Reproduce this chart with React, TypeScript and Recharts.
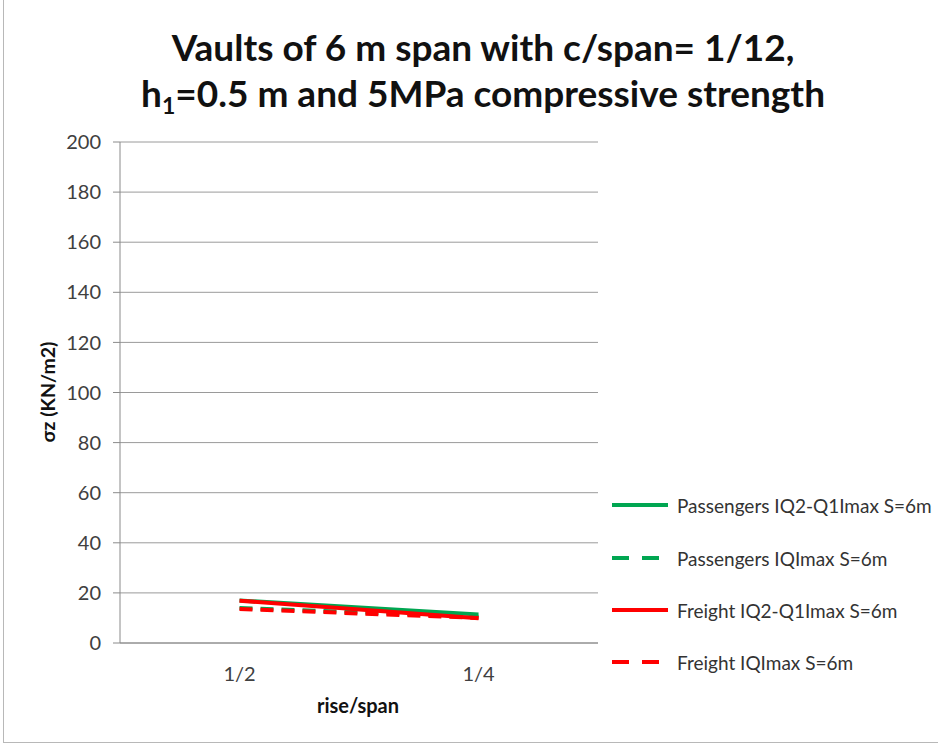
import React from "react";
import { LineChart, Line, XAxis, YAxis, CartesianGrid } from "recharts";

const categories = ["1/2", "1/4"];
const passengersIQ2Q1 = [17, 11.4];
const passengersIQ = [14, 10.5];
const freightIQ2Q1 = [16.9, 9.9];
const freightIQ = [13.6, 10];
const yTicks = [0, 20, 40, 60, 80, 100, 120, 140, 160, 180, 200];

const seriesNames = [
  "Passengers IQ2-Q1Imax S=6m",
  "Passengers IQImax S=6m",
  "Freight IQ2-Q1Imax S=6m",
  "Freight IQImax S=6m",
];

const GREEN = "#00a651";
const RED = "#ff0000";
const FONT = "Lato, 'Open Sans', sans-serif";

const data = categories.map((c, i) => ({
  cat: c,
  p1: passengersIQ2Q1[i],
  p2: passengersIQ[i],
  f1: freightIQ2Q1[i],
  f2: freightIQ[i],
}));

const series = [
  { key: "p1", name: seriesNames[0], color: GREEN, dash: undefined },
  { key: "p2", name: seriesNames[1], color: GREEN, dash: "13 8" },
  { key: "f1", name: seriesNames[2], color: RED, dash: undefined },
  { key: "f2", name: seriesNames[3], color: RED, dash: "13 8" },
];

export default function App() {
  return (
    <div
      style={{
        position: "absolute",
        left: 0,
        top: 0,
        width: 938,
        height: 745,
        overflow: "hidden",
        background: "#fff",
        fontFamily: FONT,
      }}
    >
      <div
        style={{
          position: "absolute",
          left: 3,
          top: -5,
          width: 1000,
          height: 748,
          border: "1px solid #b8b8b8",
          boxSizing: "border-box",
        }}
      />
      <div
        style={{
          position: "absolute",
          left: 0,
          width: 966,
          top: 24,
          textAlign: "center",
          fontWeight: 700,
          fontSize: 37,
          lineHeight: "46px",
          color: "#111",
          whiteSpace: "nowrap",
        }}
      >
        Vaults of 6 m span with c/span= 1/12,
        <br />
        h<sub style={{ fontSize: 23, verticalAlign: "-7px", lineHeight: 0 }}>1</sub>=0.5 m and 5MPa compressive strength
      </div>
      <LineChart
        width={938}
        height={745}
        data={data}
        margin={{ top: 142, left: 40, right: 340, bottom: 72 }}
        style={{ position: "absolute", left: 0, top: 0 }}
      >
        <CartesianGrid vertical={false} stroke="#9a9a9a" strokeWidth={1} />
        <XAxis
          dataKey="cat"
          scale="point"
          height={30}
          padding={{ left: 119.5, right: 119.5 }}
          axisLine={{ stroke: "#8a8a8a" }}
          tickLine={false}
          tickMargin={18}
          tick={{ fill: "#404040", fontSize: 20, fontFamily: FONT }}
        />
        <YAxis
          width={80}
          domain={[0, 200]}
          ticks={yTicks}
          interval={0}
          axisLine={{ stroke: "#8a8a8a" }}
          tickLine={{ stroke: "#8a8a8a" }}
          tickSize={7}
          tickMargin={12}
          tick={{ fill: "#404040", fontSize: 20, fontFamily: FONT }}
        />
        {series.map((s) => (
          <Line
            key={s.key}
            dataKey={s.key}
            name={s.name}
            stroke={s.color}
            strokeWidth={4}
            strokeDasharray={s.dash}
            dot={false}
            isAnimationActive={false}
          />
        ))}
      </LineChart>
      <div
        style={{
          position: "absolute",
          left: 47,
          top: 392,
          transform: "translate(-50%, -50%) rotate(-90deg)",
          fontWeight: 700,
          fontSize: 19.5,
          color: "#111",
          whiteSpace: "nowrap",
        }}
      >
        σz (KN/m2)
      </div>
      <div
        style={{
          position: "absolute",
          left: 358,
          top: 705,
          transform: "translate(-50%, -50%)",
          fontWeight: 700,
          fontSize: 20,
          color: "#111",
          whiteSpace: "nowrap",
        }}
      >
        rise/span
      </div>
      {series.map((s, i) => (
        <div
          key={s.key}
          style={{
            position: "absolute",
            left: 612,
            top: [505, 558, 610, 662][i] - 13,
            height: 26,
            display: "flex",
            alignItems: "center",
            whiteSpace: "nowrap",
          }}
        >
          <svg width={60} height={6} style={{ marginRight: 5 }}>
            <line
              x1={0}
              y1={3}
              x2={56}
              y2={3}
              stroke={s.color}
              strokeWidth={4}
              strokeDasharray={s.dash ? "17 13" : undefined}
            />
          </svg>
          <span style={{ fontSize: 19, color: "#333" }}>{s.name}</span>
        </div>
      ))}
    </div>
  );
}
